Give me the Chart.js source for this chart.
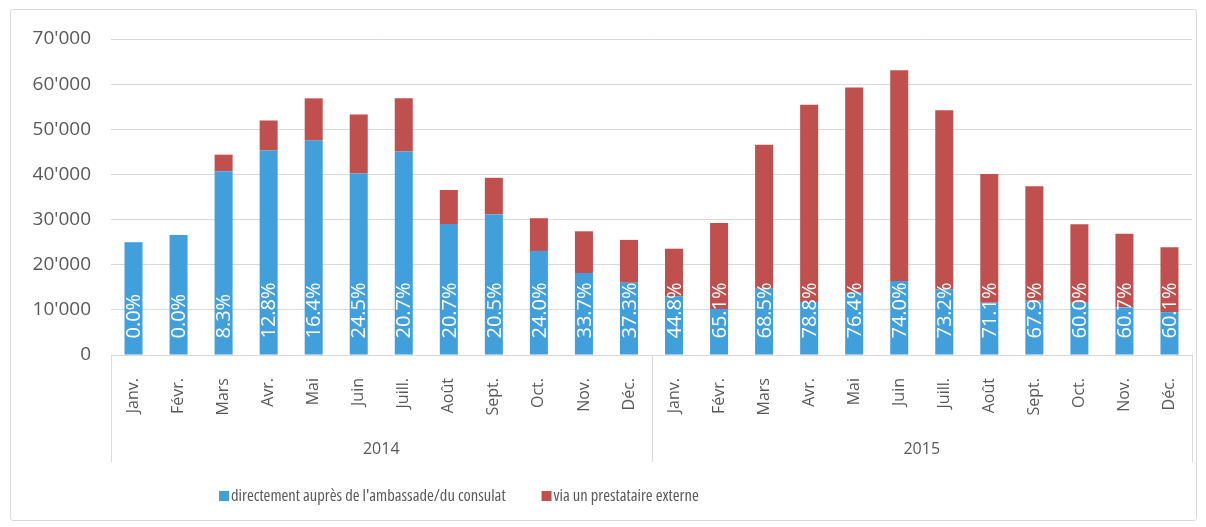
<!DOCTYPE html>
<html>
<head>
<meta charset="utf-8">
<script src="https://cdn.jsdelivr.net/npm/chart.js@4"></script>
<style>
  html, body { margin: 0; padding: 0; background: #fff; }
  #wrap { position: relative; width: 1206px; height: 527px; }
  #frame { position: absolute; left: 10px; top: 9px; width: 1185px; height: 510px;
           border: 1px solid #d9d9d9; border-radius: 3px; pointer-events: none; }
  canvas { position: absolute; left: 0; top: 0; }
</style>
</head>
<body>
<div id="wrap">
  <canvas id="chart" width="1206" height="527"></canvas>
  <div id="frame"></div>
</div>
<script>
// Months (repeated for each year) and years
const months = ['Janv.', 'Févr.', 'Mars', 'Avr.', 'Mai', 'Juin', 'Juill.', 'Août', 'Sept.', 'Oct.', 'Nov.', 'Déc.'];
const years = ['2014', '2015'];

// Visa applications lodged directly at the embassy / consulate
const direct = [
  24950, 26600, 40700, 45300, 47500, 40200, 45100, 29000, 31200, 23050, 18150, 16000,
  13000, 10200, 14650, 11750, 13950, 16400, 14500, 11550, 12000, 11550, 10550, 9500
];
// Via an external service provider
const externe = [
  0, 0, 3680, 6650, 9350, 13100, 11750, 7550, 8050, 7250, 9250, 9500,
  10550, 19050, 31950, 43700, 45300, 46700, 39700, 28550, 25400, 17400, 16300, 14350
];
// Share of the external provider (labels on the bars)
const shareLabels = [
  '0.0%', '0.0%', '8.3%', '12.8%', '16.4%', '24.5%', '20.7%', '20.7%', '20.5%', '24.0%', '33.7%', '37.3%',
  '44.8%', '65.1%', '68.5%', '78.8%', '76.4%', '74.0%', '73.2%', '71.1%', '67.9%', '60.0%', '60.7%', '60.1%'
];

const labels = years.flatMap(() => months);

const BLUE = '#41a0dc';
const RED = '#c0504d';
const GRID = '#d9d9d9';
const TEXT = '#595959';
const FONT = "'Open Sans', sans-serif";

function fmt(v) {
  return String(v).replace(/\B(?=(\d{3})+(?!\d))/g, "'");
}

// percentage labels, year labels, separators and legend
const extras = {
  id: 'extras',
  afterDatasetsDraw(chart) {
    const ctx = chart.ctx;
    const meta = chart.getDatasetMeta(0);
    ctx.save();
    ctx.fillStyle = '#fff';
    ctx.font = '20px ' + FONT;
    ctx.textAlign = 'left';
    ctx.textBaseline = 'middle';
    meta.data.forEach((bar, i) => {
      ctx.save();
      ctx.translate(bar.x, bar.base - 16);
      ctx.rotate(-Math.PI / 2);
      ctx.fillText(shareLabels[i], 0, 1);
      ctx.restore();
    });
    ctx.restore();
  },
  afterDraw(chart) {
    const ctx = chart.ctx;
    const area = chart.chartArea;
    const x = chart.scales.x;
    ctx.save();
    // year separators
    const half = (x.getPixelForValue(1) - x.getPixelForValue(0)) / 2;
    const seps = [area.left, x.getPixelForValue(11) + half, area.right];
    ctx.strokeStyle = GRID;
    ctx.lineWidth = 1;
    seps.forEach(sx => {
      ctx.beginPath();
      ctx.moveTo(Math.round(sx) + 0.5, area.bottom);
      ctx.lineTo(Math.round(sx) + 0.5, 462);
      ctx.stroke();
    });
    // year labels
    ctx.fillStyle = TEXT;
    ctx.font = '16px ' + FONT;
    ctx.textAlign = 'center';
    ctx.textBaseline = 'middle';
    years.forEach((y, k) => {
      const cx = (x.getPixelForValue(k * 12) + x.getPixelForValue(k * 12 + 11)) / 2;
      ctx.fillText(y, cx, 449);
    });
    // legend
    ctx.font = '16.5px ' + FONT;
    if ('fontStretch' in ctx) ctx.fontStretch = 'condensed';
    ctx.textAlign = 'left';
    let lx = 219;
    const ly = 496;
    chart.data.datasets.forEach(ds => {
      ctx.fillStyle = ds.backgroundColor;
      ctx.fillRect(lx, ly - 5, 10, 10);
      ctx.fillStyle = TEXT;
      ctx.fillText(ds.label, lx + 12, ly);
      lx += 12 + ctx.measureText(ds.label).width + 36;
    });
    ctx.restore();
  }
};

new Chart(document.getElementById('chart'), {
  type: 'bar',
  data: {
    labels: labels,
    datasets: [
      { label: "directement auprès de l'ambassade/du consulat", data: direct, backgroundColor: BLUE },
      { label: 'via un prestataire externe', data: externe, backgroundColor: RED }
    ]
  },
  options: {
    responsive: false,
    animation: false,
    layout: { padding: { left: 0, right: 14, top: 39, bottom: 0 } },
    datasets: { bar: { barPercentage: 0.4, categoryPercentage: 1 } },
    plugins: { legend: { display: false }, tooltip: { enabled: false } },
    scales: {
      x: {
        stacked: true,
        grid: { display: false },
        border: { display: true, color: GRID, width: 1 },
        ticks: {
          color: TEXT, font: { family: FONT, size: 16 },
          minRotation: 90, maxRotation: 90, padding: 15, autoSkip: false
        },
        afterFit(scale) { scale.height = 172; }
      },
      y: {
        stacked: true,
        min: 0, max: 70000,
        grid: { color: GRID, drawTicks: false },
        border: { display: false },
        ticks: {
          stepSize: 10000, padding: 20, color: TEXT,
          font: { family: FONT, size: 19 },
          callback: v => fmt(v)
        },
        afterFit(scale) { scale.width = 111; }
      }
    }
  },
  plugins: [extras]
});
</script>
</body>
</html>
